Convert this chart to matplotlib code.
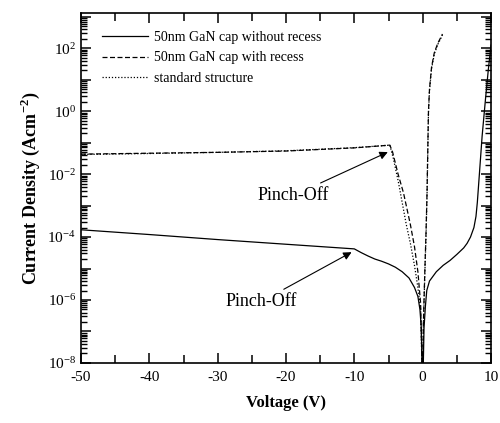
import matplotlib
matplotlib.use("Agg")
import matplotlib.pyplot as plt
import matplotlib.ticker as mticker
import numpy as np

plt.rcParams['font.family'] = ['Liberation Serif', 'DejaVu Serif']
plt.rcParams['mathtext.fontset'] = 'custom'
plt.rcParams['mathtext.rm'] = 'Liberation Serif'
plt.rcParams['mathtext.bf'] = 'Liberation Serif:bold'
plt.rcParams['axes.unicode_minus'] = False

# 50nm GaN cap without recess
v_norecess = [-50, -40, -30, -20, -10, -9, -8, -7, -6, -5, -4, -3, -2, -1.2, -0.7,
              -0.4, -0.2, 0, 0.2, 0.4, 0.6, 1, 2, 3, 4, 5, 6, 6.5, 7, 7.5, 7.8,
              8.0, 8.3, 8.7, 9.2, 9.6, 10]
j_norecess = [1.7e-4, 1.2e-4, 8.3e-5, 5.9e-5, 4.2e-5, 3.2e-5, 2.5e-5, 2.0e-5, 1.7e-5,
              1.4e-5, 1.1e-5, 7.9e-6, 5.0e-6, 2.5e-6, 1.3e-6, 5.0e-7, 1.3e-7, 1e-9,
              1.3e-7, 6.3e-7, 2.0e-6, 4.0e-6, 7.9e-6, 1.26e-5, 1.8e-5, 2.8e-5, 4.5e-5,
              6.3e-5, 1.0e-4, 2.0e-4, 4.5e-4, 1.26e-3, 1.0e-2, 1.6e-1, 2.5, 20, 126]

# 50nm GaN cap with recess
v_recess = [-50, -40, -30, -20, -10, -4.8, -4.4, -3.6, -2.8, -1.8, -1.2, -0.7, -0.3,
            0, 0.1, 0.3, 0.5, 0.65, 0.75, 0.85, 1.0, 1.3, 1.7, 2.2, 2.9]
j_recess = [4.3e-2, 4.6e-2, 4.9e-2, 5.4e-2, 6.8e-2, 8.3e-2, 5e-2, 1e-2, 2.5e-3, 2.5e-4,
            5e-5, 7.9e-6, 7.9e-7, 1e-9, 1.6e-7, 6.3e-6, 1.6e-4, 3.2e-3, 6.3e-2, 1.0,
            5.0, 25, 71, 141, 282]

# standard structure
v_std = [-50, -40, -30, -20, -10, -4.8, -4.3, -3.6, -3.0, -2.4, -1.8, -1.2, -0.7, -0.3,
         0, 0.1, 0.3, 0.5, 0.65, 0.75, 0.85, 1.0, 1.3, 1.7, 2.2, 2.9]
j_std = [4.2e-2, 4.5e-2, 4.9e-2, 5.5e-2, 6.9e-2, 8.3e-2, 3.2e-2, 6.3e-3, 1.26e-3, 2.5e-4,
         6.3e-5, 1.26e-5, 2.5e-6, 5e-7, 1e-9, 1.3e-7, 5.0e-6, 1.3e-4, 2.8e-3, 5.6e-2,
         0.9, 4.5, 22, 65, 130, 260]

fig = plt.figure(figsize=(5.0, 4.23), dpi=100)
ax = fig.add_axes([0.162, 0.142, 0.82, 0.827])

ax.plot(v_norecess, j_norecess, color='black', lw=0.9, label='50nm GaN cap without recess')
ax.plot(v_recess, j_recess, color='black', lw=0.9, dashes=(4, 2), label='50nm GaN cap with recess')
ax.plot(v_std, j_std, color='black', lw=0.9, dashes=(1, 1.5), label='standard structure')

ax.set_yscale('log')
ax.set_xlim(-50, 10)
ax.set_ylim(1e-8, 1.3e3)

ax.xaxis.set_major_locator(mticker.MultipleLocator(10))
ax.xaxis.set_minor_locator(mticker.MultipleLocator(5))
ax.yaxis.set_major_locator(mticker.FixedLocator([10.0 ** e for e in range(-8, 4)]))
ax.yaxis.set_minor_locator(mticker.FixedLocator(
    [m * 10.0 ** e for e in range(-8, 4) for m in range(2, 10)]))


def even_decades(val, pos):
    e = int(round(np.log10(val)))
    if e % 2 == 0:
        return r'$\mathregular{10^{%d}}$' % e
    return ''


ax.yaxis.set_major_formatter(mticker.FuncFormatter(even_decades))
ax.yaxis.set_minor_formatter(mticker.NullFormatter())

ax.tick_params(which='both', direction='in', top=True, right=True, labelsize=11)
ax.tick_params(which='major', length=7, width=1.1)
ax.tick_params(which='minor', length=4, width=1.0)
ax.tick_params(axis='x', which='minor', length=6, width=1.1)
ax.tick_params(axis='x', which='major', pad=6)
for s in ax.spines.values():
    s.set_linewidth(1.2)

ax.set_xlabel('Voltage (V)', fontsize=12, fontweight='bold', labelpad=8)
ax.set_ylabel(r'Current Density (Acm$^{\mathbf{-2}}$)', fontsize=13, fontweight='bold', labelpad=4)

ax.legend(loc='upper left', frameon=False, fontsize=10, handlelength=3.3,
          handletextpad=0.5, labelspacing=0.55, bbox_to_anchor=(0.02, 0.985))

arrow = dict(arrowstyle='-|>', color='black', lw=0.8, mutation_scale=12, shrinkA=2, shrinkB=0)
ax.annotate('Pinch-Off', xy=(-5.1, 5e-2), xytext=(-18.9, 2.1e-3), fontsize=13,
            ha='center', va='center', arrowprops=arrow)
ax.annotate('Pinch-Off', xy=(-10.4, 3.3e-5), xytext=(-23.7, 8.7e-7), fontsize=13,
            ha='center', va='center', arrowprops=arrow)

fig.savefig('out.png', dpi=100)
